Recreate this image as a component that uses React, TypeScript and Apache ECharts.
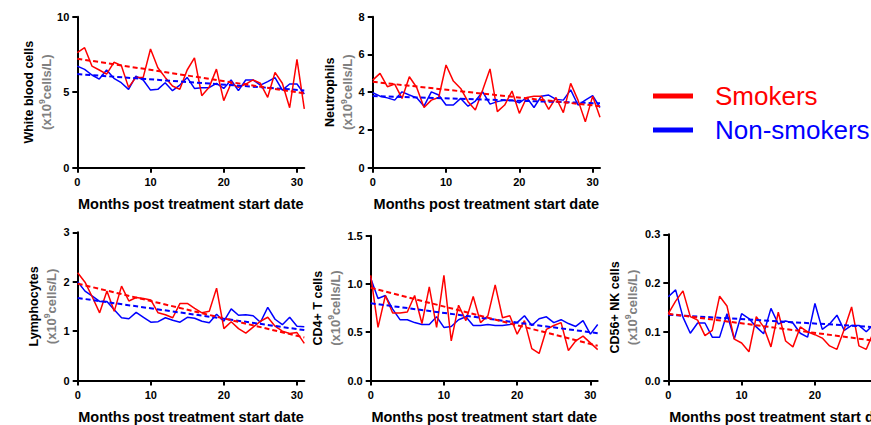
import React, { useEffect, useRef } from "react";
import * as echarts from "echarts";

const months = [0, 1, 2, 3, 4, 5, 6, 7, 8, 9, 10, 11, 12, 13, 14, 15, 16, 17, 18, 19, 20, 21, 22, 23, 24, 25, 26, 27, 28, 29, 30, 31];
const xTicks = [0, 10, 20, 30];
const trendX = [0, 31];

// White blood cells
const wbcSmokers = [7.62, 7.95, 6.73, 6.47, 6.2, 6.98, 6.78, 5.32, 5.98, 5.98, 7.86, 6.62, 5.98, 5.41, 5.19, 6.47, 7.28, 4.77, 5.32, 6.53, 4.44, 5.59, 5.32, 5.54, 5.81, 5.59, 4.66, 6.31, 5.59, 3.97, 7.17, 3.89];
const wbcNon = [6.73, 6.51, 6.14, 5.87, 6.47, 5.92, 5.63, 5.19, 6.07, 5.81, 5.14, 5.19, 5.63, 5.1, 5.47, 5.98, 5.25, 5.3, 5.3, 5.59, 5.25, 5.81, 5.1, 5.81, 5.81, 5.47, 5.7, 5.96, 5.14, 5.54, 5.54, 4.88];
const wbcTrendSmokers = [7.22, 4.92];
const wbcTrendNon = [6.2, 5.12];
const wbcTicks = [0, 5, 10];

// Neutrophils
const neuSmokers = [4.64, 5.0, 4.29, 4.43, 3.67, 4.82, 4.25, 3.19, 3.58, 3.72, 5.44, 4.59, 4.2, 3.5, 3.06, 4.12, 5.23, 2.97, 3.32, 4.06, 2.88, 3.72, 3.79, 3.79, 3.09, 3.72, 2.92, 4.47, 3.58, 2.43, 3.79, 2.67];
const neuNon = [3.97, 3.79, 3.7, 3.58, 4.02, 3.85, 3.7, 3.26, 4.02, 3.85, 3.32, 3.32, 3.67, 3.26, 3.53, 4.02, 3.37, 3.5, 3.58, 3.58, 3.44, 3.72, 3.19, 3.79, 3.85, 3.62, 3.58, 4.12, 3.32, 3.58, 3.82, 3.19];
const neuTrendSmokers = [4.55, 3.26];
const neuTrendNon = [3.8, 3.41];
const neuTicks = [0, 2, 4, 6, 8];

// Lymphocytes
const lymSmokers = [2.18, 1.99, 1.69, 1.37, 1.81, 1.4, 1.91, 1.61, 1.68, 1.66, 1.63, 1.37, 1.33, 1.27, 1.56, 1.56, 1.46, 1.37, 1.4, 1.87, 1.05, 1.19, 1.05, 0.96, 1.08, 1.2, 1.28, 1.1, 1.0, 0.95, 0.97, 0.75];
const lymNon = [2.0, 1.81, 1.71, 1.6, 1.6, 1.43, 1.27, 1.25, 1.38, 1.28, 1.18, 1.19, 1.27, 1.22, 1.18, 1.28, 1.26, 1.2, 1.17, 1.34, 1.2, 1.45, 1.32, 1.33, 1.31, 1.18, 1.48, 1.24, 1.13, 1.28, 1.1, 1.09];
const lymTrendSmokers = [1.96, 0.87];
const lymTrendNon = [1.67, 1.02];
const lymTicks = [0, 1, 2, 3];

// CD4+ T cells
const cd4Smokers = [1.09, 0.55, 0.88, 0.7, 0.7, 0.71, 0.88, 0.59, 0.97, 0.55, 1.09, 0.41, 0.78, 0.62, 0.87, 0.6, 0.67, 0.99, 0.65, 0.67, 0.48, 0.62, 0.33, 0.28, 0.53, 0.57, 0.6, 0.31, 0.41, 0.46, 0.39, 0.32];
const cd4Non = [1.06, 0.85, 0.88, 0.74, 0.63, 0.63, 0.6, 0.58, 0.58, 0.66, 0.55, 0.56, 0.63, 0.66, 0.57, 0.57, 0.58, 0.57, 0.57, 0.58, 0.6, 0.67, 0.57, 0.64, 0.66, 0.6, 0.63, 0.59, 0.56, 0.62, 0.48, 0.58];
const cd4TrendSmokers = [0.96, 0.36];
const cd4TrendNon = [0.8, 0.49];
const cd4Ticks = [0, 0.5, 1.0, 1.5];

// CD56+ NK cells
const nkSmokers = [0.137, 0.163, 0.184, 0.131, 0.124, 0.092, 0.103, 0.173, 0.153, 0.085, 0.077, 0.059, 0.131, 0.11, 0.069, 0.14, 0.081, 0.069, 0.11, 0.1, 0.094, 0.087, 0.071, 0.064, 0.105, 0.151, 0.071, 0.064, 0.1, 0.09, 0.1, 0.08];
const nkNon = [0.172, 0.186, 0.13, 0.097, 0.118, 0.118, 0.089, 0.089, 0.137, 0.085, 0.137, 0.127, 0.11, 0.096, 0.148, 0.116, 0.122, 0.118, 0.097, 0.089, 0.158, 0.105, 0.116, 0.134, 0.103, 0.113, 0.113, 0.1, 0.115, 0.11, 0.12, 0.1];
const nkTrendSmokers = [0.137, 0.076];
const nkTrendNon = [0.135, 0.107];
const nkTicks = [0, 0.1, 0.2, 0.3];

const FONT = "'Liberation Sans', Arial, sans-serif";
const RED = "#FF0000";
const BLUE = "#0000FF";

type Panel = {
  title: string;
  smokers: number[];
  non: number[];
  trendS: number[];
  trendN: number[];
  ticks: number[];
  decimals: number;
  grid: { left: number; top: number; width: number; height: number };
  nameGap: number;
};

const panels: Panel[] = [
  { title: "White blood cells", smokers: wbcSmokers, non: wbcNon, trendS: wbcTrendSmokers, trendN: wbcTrendNon, ticks: wbcTicks, decimals: 0, grid: { left: 77.3, top: 16.7, width: 227, height: 151 }, nameGap: 20 },
  { title: "Neutrophils", smokers: neuSmokers, non: neuNon, trendS: neuTrendSmokers, trendN: neuTrendNon, ticks: neuTicks, decimals: 0, grid: { left: 372.7, top: 16.7, width: 227.3, height: 151 }, nameGap: 16 },
  { title: "Lymphocytes", smokers: lymSmokers, non: lymNon, trendS: lymTrendSmokers, trendN: lymTrendNon, ticks: lymTicks, decimals: 0, grid: { left: 77.7, top: 232.3, width: 226.6, height: 151.7 }, nameGap: 17.5 },
  { title: "CD4+ T cells", smokers: cd4Smokers, non: cd4Non, trendS: cd4TrendSmokers, trendN: cd4TrendNon, ticks: cd4Ticks, decimals: 1, grid: { left: 370.7, top: 235.7, width: 227, height: 151 }, nameGap: 26.5 },
  { title: "CD56+ NK cells", smokers: nkSmokers, non: nkNon, trendS: nkTrendSmokers, trendN: nkTrendNon, ticks: nkTicks, decimals: 1, grid: { left: 668.3, top: 234.3, width: 227.3, height: 151.4 }, nameGap: 27 },
];

function pairs(xs: number[], ys: number[]) {
  return xs.map((x, i) => [x, ys[i]]);
}

export default function App() {
  const ref = useRef<HTMLDivElement>(null);

  useEffect(() => {
    if (!ref.current) return;
    const chart = echarts.init(ref.current, undefined, { renderer: "svg" });

    const axisLine = { show: true, onZero: false, lineStyle: { color: "#000", width: 2 } };
    const axisTickBase = { show: true, length: 5, lineStyle: { color: "#000", width: 2 } };
    const labelBase = { color: "#000", fontWeight: "bold" as const, fontSize: 11, fontFamily: FONT };

    const grids = panels.map((p) => ({ ...p.grid, containLabel: false }));
    const xAxes = panels.map((p, i) => ({
      type: "value",
      gridIndex: i,
      min: 0,
      max: 31,
      interval: 10,
      axisLine,
      axisTick: { ...axisTickBase, customValues: xTicks },
      axisLabel: { ...labelBase, margin: 9, customValues: xTicks },
      splitLine: { show: false },
      name: "Months post treatment start date",
      nameLocation: "middle",
      nameGap: 28.5,
      nameTextStyle: { color: "#000", fontWeight: "bold", fontSize: 14.5, fontFamily: FONT },
    }));
    const yAxes = panels.map((p, i) => ({
      type: "value",
      gridIndex: i,
      min: 0,
      max: p.ticks[p.ticks.length - 1],
      axisLine,
      axisTick: { ...axisTickBase, customValues: p.ticks },
      axisLabel: {
        ...labelBase,
        margin: 8,
        customValues: p.ticks,
        formatter: (v: number) => v.toFixed(p.decimals),
      },
      splitLine: { show: false },
      name: `{t|${p.title}}\n{s|(x10}{sup|9}{s|cells/L)}`,
      nameLocation: "middle",
      nameRotate: 90,
      nameGap: p.nameGap,
      nameTextStyle: {
        fontFamily: FONT,
        rich: {
          t: { fontSize: 12.5, fontWeight: "bold", color: "#000", lineHeight: 17.5, fontFamily: FONT },
          s: { fontSize: 13, fontWeight: "bold", color: "#808080", lineHeight: 17.5, fontFamily: FONT },
          sup: { fontSize: 8.5, fontWeight: "bold", color: "#808080", lineHeight: 17.5, verticalAlign: "top", padding: [0, 0, 6, 0], fontFamily: FONT },
        },
      },
    }));

    const series: any[] = [];
    panels.forEach((p, i) => {
      series.push({
        type: "line", name: "Non-smokers", xAxisIndex: i, yAxisIndex: i,
        data: pairs(months, p.non), showSymbol: false, color: BLUE,
        lineStyle: { color: BLUE, width: 1.5 }, z: 2,
      });
      series.push({
        type: "line", name: "Smokers", xAxisIndex: i, yAxisIndex: i,
        data: pairs(months, p.smokers), showSymbol: false, color: RED,
        lineStyle: { color: RED, width: 1.5 }, z: 3,
      });
      series.push({
        type: "line", name: "Non-smokers trend", xAxisIndex: i, yAxisIndex: i,
        data: pairs(trendX, p.trendN), showSymbol: false, color: BLUE,
        lineStyle: { color: BLUE, width: 2, type: [5, 3] }, z: 4,
      });
      series.push({
        type: "line", name: "Smokers trend", xAxisIndex: i, yAxisIndex: i,
        data: pairs(trendX, p.trendS), showSymbol: false, color: RED,
        lineStyle: { color: RED, width: 2, type: [5, 3] }, z: 5,
      });
    });

    chart.setOption({
      animation: false,
      backgroundColor: "#fff",
      grid: grids,
      xAxis: xAxes,
      yAxis: yAxes,
      legend: {
        left: 648,
        top: 78,
        orient: "vertical",
        icon: "rect",
        itemWidth: 40,
        itemHeight: 5,
        itemGap: 8,
        selectedMode: false,
        textStyle: { fontSize: 26, fontFamily: FONT, padding: [0, 0, 0, 17] },
        data: [
          { name: "Smokers", textStyle: { color: RED } },
          { name: "Non-smokers", textStyle: { color: BLUE } },
        ],
      },
      series,
    });

    return () => chart.dispose();
  }, []);

  return (
    <div style={{ position: "fixed", left: 0, top: 0, width: 871, height: 425, overflow: "hidden", background: "#fff" }}>
      <div ref={ref} style={{ width: 960, height: 425 }} />
    </div>
  );
}
